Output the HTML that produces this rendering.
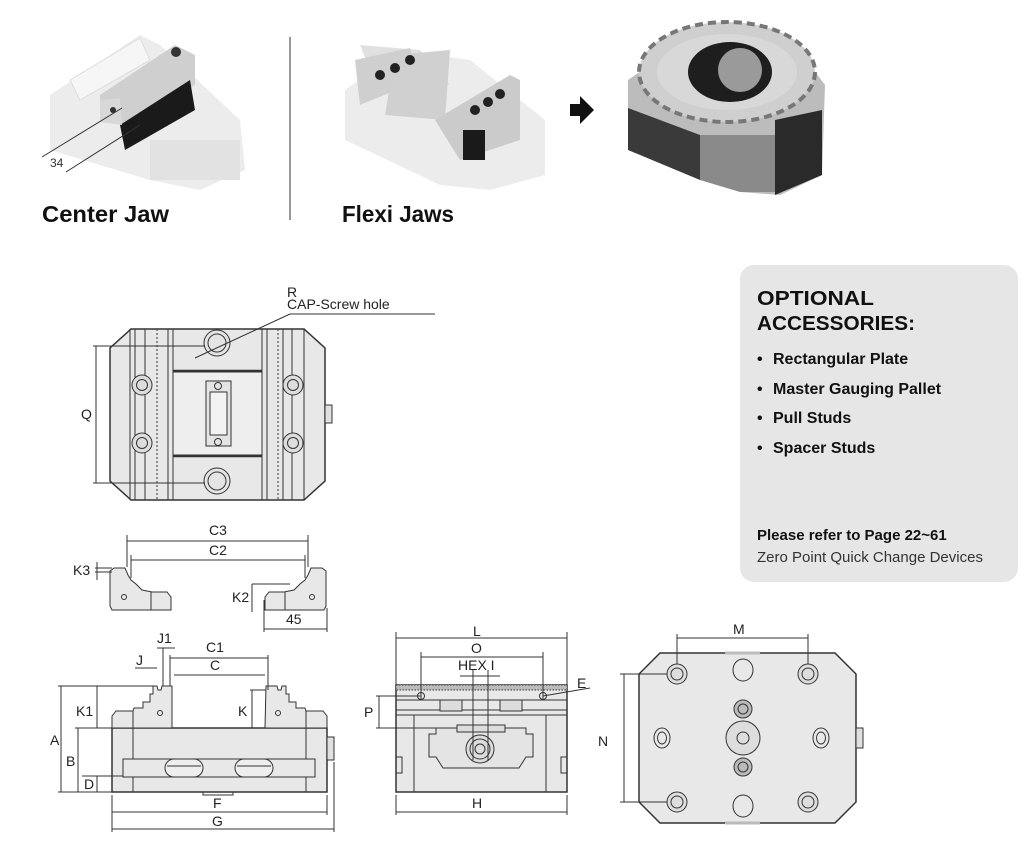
<!DOCTYPE html>
<html><head><meta charset="utf-8"><style>
html,body{margin:0;padding:0;background:#fff}
svg{display:block}
text{font-family:"Liberation Sans",sans-serif}
</style></head><body>
<svg width="1024" height="854" viewBox="0 0 1024 854" xmlns="http://www.w3.org/2000/svg">
<!-- Photos -->
<g>
 <!-- center jaw photo -->
 <polygon points="50,95 140,35 160,45 240,120 245,170 200,190 150,180 50,150" fill="#ececec"/>
 <polygon points="70,80 140,38 150,60 80,100" fill="#f6f6f6" stroke="#ddd"/>
 <polygon points="100,95 175,45 195,55 195,85 125,125 100,120" fill="#cfcfcf"/>
 <polygon points="120,125 190,80 195,110 125,150" fill="#1a1a1a"/>
 <polygon points="100,100 120,98 122,125 100,122" fill="#d8d8d8"/>
 <circle cx="113" cy="110" r="3" fill="#333"/><circle cx="176" cy="52" r="5" fill="#333"/>
 <rect x="150" y="140" width="90" height="40" fill="#e2e2e2"/>
 <line x1="42" y1="157" x2="122" y2="108" stroke="#333"/><line x1="66" y1="172" x2="140" y2="125" stroke="#333"/>
 <text x="50" y="167" font-size="12" fill="#333">34</text>
 <!-- divider -->
 <line x1="290" y1="37" x2="290" y2="220" stroke="#333"/>
 <!-- flexi jaws photo -->
 <polygon points="345,90 400,50 470,60 545,120 545,175 490,190 440,185 345,140" fill="#ececec"/>
 <polygon points="360,45 420,50 450,85 380,95" fill="#e0e0e0"/>
 <polygon points="355,60 410,48 420,80 360,105" fill="#cfcfcf"/>
 <polygon points="395,55 450,50 445,120 385,115" fill="#d0d0d0"/>
 <polygon points="435,120 510,75 520,80 520,140 460,160" fill="#cbcbcb"/>
 <rect x="463" y="130" width="22" height="30" fill="#1a1a1a"/>
 <circle cx="380" cy="75" r="5" fill="#222"/><circle cx="395" cy="68" r="5" fill="#222"/><circle cx="410" cy="60" r="5" fill="#222"/>
 <circle cx="475" cy="110" r="5" fill="#222"/><circle cx="488" cy="102" r="5" fill="#222"/><circle cx="500" cy="94" r="5" fill="#222"/>
 <!-- arrow -->
 <polygon points="570,104 580,104 580,96 594,110 580,124 580,116 570,116" fill="#111"/>
 <!-- zero point photo -->
 <polygon points="628,80 650,65 810,65 825,85 822,175 780,195 740,192 628,140" fill="#bcbcbc"/>
 <polygon points="628,108 700,135 700,180 628,150" fill="#3a3a3a"/>
 <polygon points="700,135 775,135 775,192 740,192 700,180" fill="#8a8a8a"/>
 <polygon points="775,120 822,110 822,175 775,195" fill="#2a2a2a"/>
 <ellipse cx="727" cy="72" rx="88" ry="50" fill="#cfcfcf" stroke="#777" stroke-width="4" stroke-dasharray="8,5"/>
 <ellipse cx="727" cy="72" rx="70" ry="38" fill="#d8d8d8"/>
 <ellipse cx="730" cy="72" rx="42" ry="30" fill="#1e1e1e"/>
 <ellipse cx="740" cy="70" rx="22" ry="22" fill="#9a9a9a"/>
 <text x="42" y="222" font-size="23" font-weight="bold" fill="#111" textLength="127" lengthAdjust="spacingAndGlyphs">Center Jaw</text>
 <text x="342" y="222" font-size="23" font-weight="bold" fill="#111" textLength="112" lengthAdjust="spacingAndGlyphs">Flexi Jaws</text>
</g>

<!-- Accessories box -->
<rect x="740" y="265" width="278" height="317" rx="14" fill="#e6e6e6"/>
<g fill="#111">
 <text x="757" y="305" font-size="20" font-weight="bold" textLength="117" lengthAdjust="spacingAndGlyphs">OPTIONAL</text>
 <text x="757" y="330" font-size="20" font-weight="bold" textLength="158" lengthAdjust="spacingAndGlyphs">ACCESSORIES:</text>
 <g font-size="16" font-weight="bold">
 <text x="757" y="364">•</text><text x="773" y="364">Rectangular Plate</text>
 <text x="757" y="394">•</text><text x="773" y="394">Master Gauging Pallet</text>
 <text x="757" y="423">•</text><text x="773" y="423">Pull Studs</text>
 <text x="757" y="453">•</text><text x="773" y="453">Spacer Studs</text>
 </g>
 <text x="757" y="540" font-size="15" font-weight="bold">Please refer to Page 22~61</text>
 <text x="757" y="562" font-size="15" fill="#333">Zero Point Quick Change Devices</text>
</g>

<g stroke="#333" fill="none" stroke-width="1">
<!-- Top view -->
<polygon points="131,329 304,329 325,348 325,481 304,500 131,500 110,481 110,348" fill="#e8e8e8" stroke-width="1.5"/>
<rect x="325" y="405" width="7" height="18" fill="#e0e0e0"/>
<line x1="130" y1="329" x2="130" y2="500"/><line x1="135" y1="329" x2="135" y2="500"/><line x1="145" y1="329" x2="145" y2="500"/>
<line x1="157" y1="329" x2="157" y2="500" stroke-dasharray="2,2"/><line x1="168" y1="329" x2="168" y2="500"/><line x1="173" y1="329" x2="173" y2="500"/>
<line x1="262" y1="329" x2="262" y2="500"/><line x1="267" y1="329" x2="267" y2="500"/><line x1="278" y1="329" x2="278" y2="500" stroke-dasharray="2,2"/>
<line x1="283" y1="329" x2="283" y2="500"/><line x1="292" y1="329" x2="292" y2="500"/><line x1="304" y1="329" x2="304" y2="500"/>
<line x1="173" y1="371" x2="262" y2="371" stroke-width="2.5"/><line x1="173" y1="456" x2="262" y2="456" stroke-width="2.5"/>
<rect x="173" y="372" width="89" height="83" fill="#eee"/>
<rect x="206" y="381" width="25" height="65" fill="#e4e4e4"/><rect x="210" y="392" width="17" height="43" fill="#f3f3f3"/>
<circle cx="218" cy="386" r="3.5"/><circle cx="218" cy="442" r="3.5"/>
<circle cx="217" cy="343" r="13" fill="#e4e4e4"/><circle cx="217" cy="343" r="9"/>
<circle cx="217" cy="481" r="13" fill="#e4e4e4"/><circle cx="217" cy="481" r="9"/>
<circle cx="142" cy="385" r="10" fill="#ddd"/><circle cx="142" cy="385" r="5.5"/>
<circle cx="142" cy="443" r="10" fill="#ddd"/><circle cx="142" cy="443" r="5.5"/>
<circle cx="293" cy="385" r="10" fill="#ddd"/><circle cx="293" cy="385" r="5.5"/>
<circle cx="293" cy="443" r="10" fill="#ddd"/><circle cx="293" cy="443" r="5.5"/>
<line x1="195" y1="358" x2="290" y2="314"/><line x1="290" y1="314" x2="435" y2="314"/>
<line x1="93" y1="346" x2="205" y2="346"/><line x1="93" y1="483" x2="205" y2="483"/><line x1="96" y1="346" x2="96" y2="483"/>

<!-- jaws row -->
<line x1="127" y1="541" x2="308" y2="541"/><line x1="127" y1="535" x2="127" y2="567"/><line x1="308" y1="535" x2="308" y2="567"/>
<line x1="131" y1="560" x2="305" y2="560"/><line x1="131" y1="555" x2="131" y2="578"/><line x1="305" y1="555" x2="305" y2="578"/>
<path d="M110,571 L114,568 L125,568 L128,575 L131,580 L136,584 L142,590 L152,592 L167,592 L171,597 L171,610 L112,610 L110,606 Z" fill="#e8e8e8"/>
<line x1="151" y1="592" x2="151" y2="610"/><circle cx="124" cy="597" r="2.5"/>
<path d="M326,571 L322,568 L311,568 L308,575 L305,580 L300,584 L294,590 L284,592 L269,592 L265,597 L265,610 L324,610 L326,606 Z" fill="#e8e8e8"/>
<line x1="285" y1="592" x2="285" y2="610"/><circle cx="312" cy="597" r="2.5"/>
<line x1="95" y1="568" x2="112" y2="568"/><line x1="95" y1="572" x2="112" y2="572"/><line x1="97" y1="562" x2="97" y2="580"/>
<line x1="252" y1="584" x2="290" y2="584"/><line x1="252" y1="584" x2="252" y2="612"/>
<line x1="264" y1="600" x2="264" y2="632"/><line x1="327" y1="608" x2="327" y2="632"/><line x1="264" y1="629" x2="327" y2="629"/>

<!-- front view -->
<rect x="112" y="728" width="215" height="64" fill="#e8e8e8" stroke-width="1.5"/>
<rect x="327" y="737" width="7" height="23" fill="#e0e0e0"/>
<line x1="133" y1="728" x2="133" y2="792"/><line x1="306" y1="728" x2="306" y2="792"/>
<rect x="123" y="759" width="192" height="18" fill="#e8e8e8"/>
<rect x="165" y="759" width="38" height="18" rx="9" fill="#eee"/><rect x="235" y="759" width="38" height="18" rx="9" fill="#eee"/>
<line x1="167" y1="766" x2="201" y2="766"/><line x1="237" y1="766" x2="271" y2="766"/>
<rect x="203" y="792" width="30" height="3"/>
<path d="M112,728 L112,716 L116,711 L133,711 L134,708 L143,708 L143,702 L150,702 L150,694 L153,694 L153,686 L157,686 L158,690 L161,690 L162,686 L172,686 L172,728 Z" fill="#e8e8e8"/>
<line x1="133" y1="711" x2="133" y2="728"/><circle cx="160" cy="713" r="2.5"/>
<path d="M327,728 L327,716 L323,711 L306,711 L305,708 L296,708 L296,702 L289,702 L289,694 L286,694 L286,686 L282,686 L281,690 L278,690 L277,686 L266,686 L265,728 Z" fill="#e8e8e8"/>
<line x1="306" y1="711" x2="306" y2="728"/><circle cx="278" cy="713" r="2.5"/>
<line x1="58" y1="686" x2="153" y2="686"/><line x1="61" y1="686" x2="61" y2="792"/>
<line x1="75" y1="728" x2="112" y2="728"/><line x1="78" y1="728" x2="78" y2="792"/>
<line x1="58" y1="792" x2="112" y2="792"/>
<line x1="82" y1="776" x2="123" y2="776"/><line x1="97" y1="776" x2="97" y2="792"/><line x1="97" y1="686" x2="97" y2="728"/>
<line x1="250" y1="690" x2="266" y2="690"/><line x1="252" y1="690" x2="252" y2="728"/>
<line x1="170" y1="658" x2="268" y2="658"/><line x1="170" y1="655" x2="170" y2="686"/><line x1="268" y1="655" x2="268" y2="690"/>
<line x1="174" y1="675" x2="265" y2="675"/>
<line x1="135" y1="668" x2="157" y2="668"/><line x1="157" y1="648" x2="175" y2="648"/><line x1="163" y1="648" x2="163" y2="686"/>
<line x1="112" y1="795" x2="112" y2="832"/><line x1="327" y1="795" x2="327" y2="815"/><line x1="334" y1="762" x2="334" y2="832"/>
<line x1="112" y1="812" x2="327" y2="812"/><line x1="112" y1="829" x2="334" y2="829"/>

<!-- side view -->
<rect x="396" y="685" width="171" height="107" fill="#e8e8e8" stroke-width="1.5"/>
<rect x="396" y="685" width="171" height="5" fill="#bbb" stroke-dasharray="1.5,1.5"/>
<line x1="396" y1="700" x2="567" y2="700"/><line x1="396" y1="710" x2="567" y2="710"/>
<rect x="440" y="700" width="22" height="11" fill="#ddd"/><rect x="500" y="700" width="22" height="11" fill="#ddd"/>
<line x1="396" y1="715" x2="567" y2="715"/><line x1="414" y1="715" x2="414" y2="792"/><line x1="546" y1="715" x2="546" y2="792"/>
<path d="M436,728 L436,734 L429,734 L429,757 L436,757 L443,768 L519,768 L526,757 L533,757 L533,734 L526,734 L526,728 Z" fill="#e4e4e4"/>
<rect x="457" y="725" width="48" height="7" fill="#ddd"/>
<circle cx="480" cy="749" r="14" fill="#ddd"/><circle cx="480" cy="749" r="10"/><circle cx="480" cy="749" r="5"/>
<rect x="396" y="757" width="6" height="16"/><rect x="561" y="757" width="6" height="16"/>
<circle cx="421" cy="696" r="3.5"/><circle cx="543" cy="696" r="3.5"/>
<line x1="543" y1="696" x2="590" y2="688"/>
<line x1="396" y1="632" x2="396" y2="685"/><line x1="567" y1="632" x2="567" y2="685"/>
<line x1="396" y1="638" x2="567" y2="638"/>
<line x1="421" y1="657" x2="543" y2="657"/><line x1="421" y1="652" x2="421" y2="700"/><line x1="543" y1="652" x2="543" y2="700"/>
<line x1="460" y1="676" x2="500" y2="676"/><line x1="473" y1="670" x2="473" y2="760"/><line x1="488" y1="670" x2="488" y2="760"/>
<line x1="376" y1="696" x2="421" y2="696"/><line x1="376" y1="728" x2="436" y2="728"/><line x1="379" y1="696" x2="379" y2="728"/>
<line x1="396" y1="795" x2="396" y2="815"/><line x1="567" y1="795" x2="567" y2="815"/><line x1="396" y1="812" x2="567" y2="812"/>

<!-- bottom view -->
<polygon points="660,653 835,653 856,674 856,802 835,823 660,823 639,802 639,674" fill="#e8e8e8" stroke-width="1.5"/>
<rect x="856" y="728" width="7" height="20" fill="#e0e0e0"/>
<g fill="#ddd">
<circle cx="677" cy="674" r="10"/><circle cx="808" cy="674" r="10"/><circle cx="677" cy="802" r="10"/><circle cx="808" cy="802" r="10"/>
</g>
<circle cx="677" cy="674" r="6"/><circle cx="808" cy="674" r="6"/><circle cx="677" cy="802" r="6"/><circle cx="808" cy="802" r="6"/>
<ellipse cx="743" cy="670" rx="10" ry="11"/><ellipse cx="743" cy="806" rx="10" ry="11"/>
<ellipse cx="662" cy="738" rx="8" ry="10"/><ellipse cx="662" cy="738" rx="4.5" ry="6"/>
<ellipse cx="821" cy="738" rx="8" ry="10"/><ellipse cx="821" cy="738" rx="4.5" ry="6"/>
<circle cx="743" cy="738" r="17" fill="#ddd"/><circle cx="743" cy="738" r="6"/>
<circle cx="743" cy="709" r="9" fill="#bbb"/><circle cx="743" cy="709" r="5"/>
<circle cx="743" cy="767" r="9" fill="#bbb"/><circle cx="743" cy="767" r="5"/>
<line x1="725" y1="653" x2="760" y2="653" stroke-width="3" stroke="#bbb"/><line x1="725" y1="823" x2="760" y2="823" stroke-width="3" stroke="#bbb"/>
<line x1="677" y1="634" x2="677" y2="664"/><line x1="808" y1="634" x2="808" y2="664"/><line x1="677" y1="638" x2="808" y2="638"/>
<line x1="620" y1="674" x2="667" y2="674"/><line x1="620" y1="802" x2="667" y2="802"/><line x1="624" y1="674" x2="624" y2="802"/>
</g>

<!-- labels -->
<g fill="#222" font-size="14">
<text x="287" y="297">R</text><text x="287" y="309">CAP-Screw hole</text>
<text x="81" y="419">Q</text>
<text x="209" y="535">C3</text><text x="209" y="555">C2</text>
<text x="73" y="575">K3</text><text x="232" y="602">K2</text><text x="286" y="624">45</text>
<text x="157" y="643">J1</text><text x="136" y="665">J</text><text x="206" y="652">C1</text><text x="210" y="670">C</text>
<text x="76" y="716">K1</text><text x="238" y="716">K</text>
<text x="50" y="745">A</text><text x="66" y="766">B</text><text x="84" y="789">D</text>
<text x="213" y="808">F</text><text x="212" y="826">G</text>
<text x="473" y="636">L</text><text x="471" y="653">O</text><text x="458" y="670">HEX I</text>
<text x="577" y="688">E</text><text x="364" y="717">P</text><text x="472" y="808">H</text>
<text x="733" y="634">M</text><text x="598" y="746">N</text>
</g>
</svg>
</body></html>
